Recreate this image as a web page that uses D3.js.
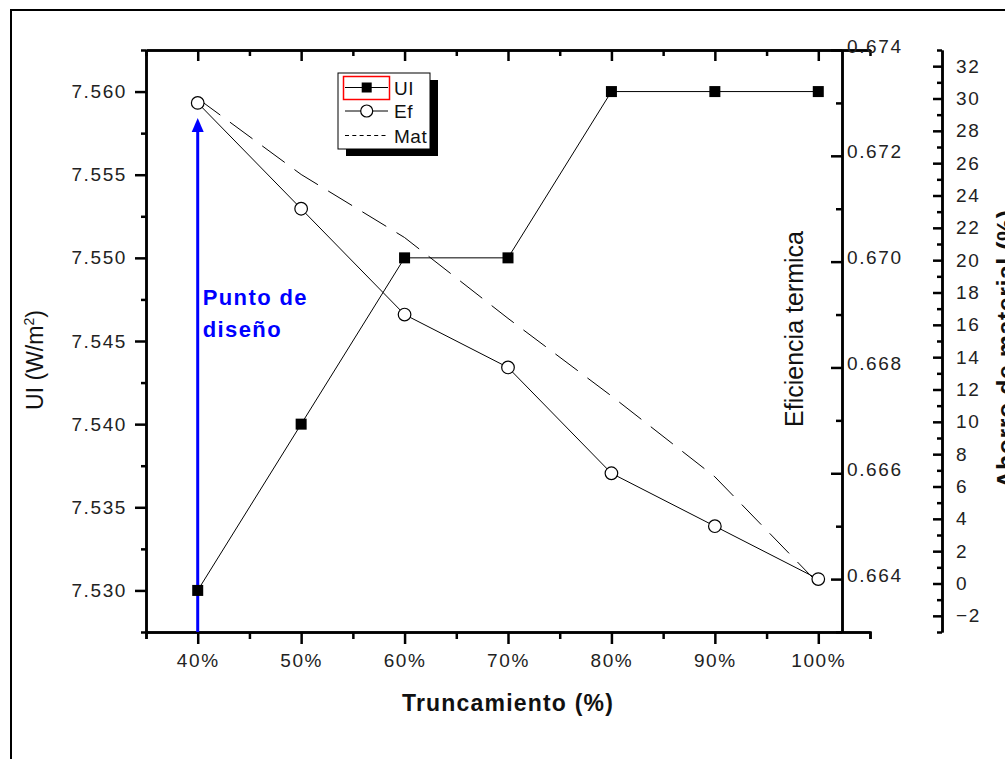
<!DOCTYPE html>
<html>
<head>
<meta charset="utf-8">
<script src="https://cdn.jsdelivr.net/npm/d3@7"></script>
<style>
  html, body { margin: 0; padding: 0; background: #fff; }
  svg { display: block; font-family: "Liberation Sans", Arial, sans-serif; }
  .axis path, .axis line { stroke: #000; stroke-width: 2.5; }
  .axis text { font-size: 19px; fill: #222; letter-spacing: 1.6px; }
</style>
</head>
<body>
<svg id="chart" width="1005" height="759"></svg>
<script>
// Truncation levels (%) and the three measured series
const truncamiento = [40, 50, 60, 70, 80, 90, 100];
const ui  = [7.530, 7.540, 7.550, 7.550, 7.560, 7.560, 7.560];   // W/m2
const ef  = [0.673, 0.671, 0.669, 0.668, 0.666, 0.665, 0.664];   // thermal efficiency
const mat = [30, 25.3, 21.4, 16.4, 11.6, 6.6, 0];                // material saving (%)

// Tick values for each axis
const xTicks   = [40, 50, 60, 70, 80, 90, 100];
const xMinor   = [35, 45, 55, 65, 75, 85, 95, 105];
const uiTicks  = [7.530, 7.535, 7.540, 7.545, 7.550, 7.555, 7.560];
const uiMinor  = [7.5275, 7.5325, 7.5375, 7.5425, 7.5475, 7.5525, 7.5575, 7.5625];
const efTicks  = [0.664, 0.666, 0.668, 0.670, 0.672, 0.674];
const efMinor  = [0.663, 0.665, 0.667, 0.669, 0.671, 0.673];
const matTicks = [-2, 0, 2, 4, 6, 8, 10, 12, 14, 16, 18, 20, 22, 24, 26, 28, 30, 32];
const matMinor = [-3, -1, 1, 3, 5, 7, 9, 11, 13, 15, 17, 19, 21, 23, 25, 27, 29, 31, 33];

const seriesNames = ["UI", "Ef", "Mat"];
const designLabel = ["Punto de", "diseño"];

const svg = d3.select("#chart");
const L = 146, R = 870, T = 50, B = 632;
const efAxisX = 842, matAxisX = 942;

const x    = d3.scaleLinear().domain([35, 105]).range([L, R]);
const yUI  = d3.scaleLinear().domain([7.5275, 7.5625]).range([B, T]);
const yEf  = d3.scaleLinear().domain([0.663, 0.674]).range([B, T]);
const yMat = d3.scaleLinear().domain([-3, 33]).range([B, T]);

// page frame
svg.append("path")
  .attr("d", "M11,759V10H1005")
  .attr("fill", "none").attr("stroke", "#000").attr("stroke-width", 2);

// ---- axes ----
function drawAxis(gen, tx, ty, cls) {
  const g = svg.append("g").attr("class", "axis " + (cls || ""))
    .attr("transform", `translate(${tx},${ty})`).call(gen);
  return g;
}

// bottom x axis
drawAxis(d3.axisBottom(x).tickValues(xMinor).tickSize(7).tickFormat(""), 0, B);
drawAxis(d3.axisBottom(x).tickValues(xTicks).tickSizeInner(12).tickSizeOuter(0)
  .tickPadding(10).tickFormat(d => d + "%"), 0, B);
// top x axis (ticks inward)
drawAxis(d3.axisTop(x).tickValues(xMinor).tickSizeInner(-6).tickSizeOuter(0).tickFormat(""), 0, T);
drawAxis(d3.axisTop(x).tickValues(xTicks).tickSizeInner(-11).tickSizeOuter(0).tickFormat(""), 0, T);

// left UI axis
drawAxis(d3.axisLeft(yUI).tickValues(uiMinor).tickSizeInner(5).tickSizeOuter(0).tickFormat(""), L, 0);
drawAxis(d3.axisLeft(yUI).tickValues(uiTicks).tickSizeInner(11).tickSizeOuter(0)
  .tickPadding(8).tickFormat(d3.format(".3f")), L, 0);

// right efficiency axis (ticks inward, labels outside)
drawAxis(d3.axisRight(yEf).tickValues(efMinor).tickSizeInner(-6).tickSizeOuter(0).tickFormat(""), efAxisX, 0);
drawAxis(d3.axisRight(yEf).tickValues(efTicks).tickSizeInner(-11).tickSizeOuter(0)
  .tickPadding(5).tickFormat(d3.format(".3f")), efAxisX, 0)
  .selectAll(".tick text").attr("transform", "translate(0,-4)");

// offset material axis
drawAxis(d3.axisRight(yMat).tickValues(matMinor).tickSizeInner(-5).tickSizeOuter(0).tickFormat(""), matAxisX, 0);
drawAxis(d3.axisRight(yMat).tickValues(matTicks).tickSizeInner(-9).tickSizeOuter(0)
  .tickPadding(14).tickFormat(d3.format("d")), matAxisX, 0);

// ---- axis titles ----
svg.append("text")
  .attr("x", 508).attr("y", 711)
  .attr("text-anchor", "middle")
  .attr("font-size", 23).attr("font-weight", "bold").attr("letter-spacing", 1.2)
  .attr("fill", "#111")
  .text("Truncamiento (%)");

const uiTitle = svg.append("text")
  .attr("transform", "translate(43,360) rotate(-90)")
  .attr("text-anchor", "middle")
  .attr("font-size", 23).attr("fill", "#111");
uiTitle.append("tspan").text("UI (W/m");
uiTitle.append("tspan").attr("font-size", 14).attr("dy", -9).text("2");
uiTitle.append("tspan").attr("dy", 9).text(")");

svg.append("text")
  .attr("transform", "translate(803,329) rotate(-90)")
  .attr("text-anchor", "middle")
  .attr("font-size", 25).attr("fill", "#111")
  .text("Eficiencia termica");

// right-most title runs past the page edge, as in the original layout
svg.append("text")
  .attr("transform", "translate(1015,349) rotate(-90)")
  .attr("text-anchor", "middle")
  .attr("font-size", 25).attr("font-weight", "bold").attr("letter-spacing", 0.5)
  .attr("fill", "#111")
  .text("Ahorro de material (%)");

// ---- design point arrow ----
const xDesign = x(truncamiento[0]);
const arrowTip = yEf(ef[0]) + 15;
svg.append("line")
  .attr("x1", xDesign).attr("x2", xDesign)
  .attr("y1", B).attr("y2", arrowTip + 12)
  .attr("stroke", "#0000ff").attr("stroke-width", 3);
svg.append("path")
  .attr("d", `M${xDesign},${arrowTip}L${xDesign - 6},${arrowTip + 14}L${xDesign + 6},${arrowTip + 14}Z`)
  .attr("fill", "#0000ff");
svg.append("text")
  .attr("x", xDesign + 5).attr("y", 305)
  .attr("font-size", 22).attr("font-weight", "bold").attr("letter-spacing", 1.4)
  .attr("fill", "#0000ff")
  .selectAll("tspan").data(designLabel).join("tspan")
  .attr("x", xDesign + 5).attr("dy", (d, i) => i === 0 ? 0 : 32)
  .text(d => d);

// ---- series ----
const idx = d3.range(truncamiento.length);

svg.append("path")
  .attr("d", d3.line().x(i => x(truncamiento[i])).y(i => yMat(mat[i]))(idx))
  .attr("fill", "none").attr("stroke", "#000").attr("stroke-width", 1)
  .attr("stroke-dasharray", "28 12");

svg.append("path")
  .attr("d", d3.line().x(i => x(truncamiento[i])).y(i => yEf(ef[i]))(idx))
  .attr("fill", "none").attr("stroke", "#000").attr("stroke-width", 1);

svg.append("path")
  .attr("d", d3.line().x(i => x(truncamiento[i])).y(i => yUI(ui[i]))(idx))
  .attr("fill", "none").attr("stroke", "#000").attr("stroke-width", 1);

svg.selectAll("circle.ef").data(idx).join("circle")
  .attr("class", "ef")
  .attr("cx", i => x(truncamiento[i])).attr("cy", i => yEf(ef[i]))
  .attr("r", 6.3)
  .attr("fill", "#fff").attr("stroke", "#000").attr("stroke-width", 1.2);

svg.selectAll("rect.ui").data(idx).join("rect")
  .attr("class", "ui")
  .attr("x", i => x(truncamiento[i]) - 5.5).attr("y", i => yUI(ui[i]) - 5.5)
  .attr("width", 11).attr("height", 11)
  .attr("fill", "#000");

// ---- legend ----
const lg = svg.append("g").attr("transform", "translate(338,73)");
lg.append("rect").attr("x", 8).attr("y", 7).attr("width", 92).attr("height", 76).attr("fill", "#000");
lg.append("rect").attr("x", 0).attr("y", 0).attr("width", 92).attr("height", 76)
  .attr("fill", "#fff").attr("stroke", "#000").attr("stroke-width", 1);
const rowY = [14.5, 38, 62.5];
lg.append("rect").attr("x", 5.5).attr("y", 3.5).attr("width", 46).attr("height", 23)
  .attr("fill", "none").attr("stroke", "#ff0000").attr("stroke-width", 1.5);
seriesNames.forEach((name, i) => {
  const y = rowY[i];
  lg.append("line").attr("x1", 7).attr("x2", 50).attr("y1", y).attr("y2", y)
    .attr("stroke", "#000").attr("stroke-width", 1)
    .attr("stroke-dasharray", i === 2 ? "4 3.3" : null);
  if (i === 0) {
    lg.append("rect").attr("x", 28.7 - 5).attr("y", y - 5).attr("width", 10).attr("height", 10).attr("fill", "#000");
  } else if (i === 1) {
    lg.append("circle").attr("cx", 28.7).attr("cy", y).attr("r", 6)
      .attr("fill", "#fff").attr("stroke", "#000").attr("stroke-width", 1.2);
  }
  lg.append("text").attr("x", 56).attr("y", y + 7)
    .attr("font-size", 19).attr("fill", "#111").attr("letter-spacing", 0.5)
    .text(name);
});
</script>
</body>
</html>
